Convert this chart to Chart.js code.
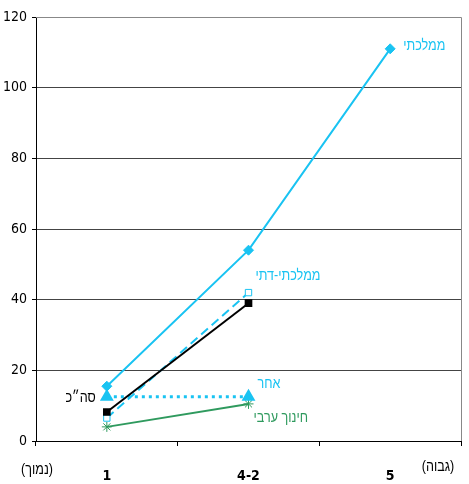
<!DOCTYPE html>
<html><head><meta charset="utf-8">
<script src="https://cdn.jsdelivr.net/npm/chart.js@4/dist/chart.umd.min.js"></script>
<style>html,body{margin:0;padding:0;background:#fff}#wrap{width:469px;height:484px}</style>
</head><body><div id="wrap"><canvas id="c" width="469" height="484"></canvas></div>
<script>
const categories = ["1", "4-2", "5"];
const yTicks = [0, 20, 40, 60, 80, 100, 120];
const mamlachti = [15.5, 54, 111];
const mamlachtiDati = [6.5, 42, null];
const total = [8.2, 39, null];
const other = [12.5, 12.5, null];
const arab = [4, 10.5, null];
const seriesNames = ["ממלכתי", "ממלכתי-דתי", "סה״כ", "אחר", "חינוך ערבי"];
const axisEnds = ["(נמוך)", "(גבוה)"];

const CYAN = "#19c3f2", GREEN = "#2f9a5e";
const FONT = "'Liberation Sans Narrow', 'DejaVu Sans Condensed', sans-serif";
const HFONT = "'Liberation Sans Narrow', 'Liberation Sans', sans-serif";

const labelSpec = [
  {ds:0, i:2, dx:13, dy:-3, align:'left', color:CYAN},
  {ds:1, i:1, dx:7, dy:-17, align:'left', color:CYAN},
  {ds:2, i:0, dx:-11, dy:-14, align:'right', color:'#000'},
  {ds:3, i:1, dx:9, dy:-13, align:'left', color:CYAN},
  {ds:4, i:1, dx:5, dy:14, align:'left', color:GREEN}
];

function hText(ctx, txt, x, y, align){
  ctx.save();
  ctx.translate(x, y);
  ctx.scale(0.84, 1);
  ctx.textAlign = align;
  ctx.fillText(txt, 0, 0);
  ctx.restore();
}

const labelPlugin = {
  id:'labels',
  afterDatasetsDraw(chart){
    const ctx = chart.ctx, x = chart.scales.x, y = chart.scales.y;
    ctx.save();
    ctx.direction = 'rtl';
    ctx.font = "15px " + HFONT;
    ctx.textBaseline = 'middle';
    labelSpec.forEach(s=>{
      const v = chart.data.datasets[s.ds].data[s.i];
      ctx.fillStyle = s.color;
      hText(ctx, seriesNames[s.ds], x.getPixelForValue(s.i) + s.dx, y.getPixelForValue(v) + s.dy, s.align);
    });
    ctx.fillStyle = '#000';
    const ca = chart.chartArea;
    hText(ctx, axisEnds[0], ca.left + 1, ca.bottom + 29, 'center');
    hText(ctx, axisEnds[1], ca.right - 23, ca.bottom + 26, 'center');
    ctx.direction = 'ltr';
    ctx.strokeStyle = '#888'; ctx.lineWidth = 1;
    ctx.beginPath(); ctx.moveTo(ca.left, ca.top + 0.5); ctx.lineTo(ca.right + 0.5, ca.top + 0.5); ctx.lineTo(ca.right + 0.5, ca.bottom); ctx.stroke();
    ctx.restore();
  }
};

new Chart(document.getElementById('c'), {
  type:'line',
  data:{
    labels: categories,
    datasets:[
      {label:seriesNames[0], data:mamlachti, borderColor:CYAN, backgroundColor:CYAN, borderWidth:2, pointStyle:'rectRot', pointRadius:5, pointBorderWidth:1, order:3},
      {label:seriesNames[1], data:mamlachtiDati, borderColor:CYAN, backgroundColor:'#fff', borderWidth:2, borderDash:[9,5], pointStyle:'rect', pointRadius:4.5, pointBorderWidth:1, order:4},
      {label:seriesNames[2], data:total, borderColor:'#000', backgroundColor:'#000', borderWidth:2, pointStyle:'rect', pointRadius:4, order:1},
      {label:seriesNames[3], data:other, borderColor:CYAN, backgroundColor:CYAN, borderWidth:3, borderDash:[3,4], pointStyle:'triangle', pointRadius:5, order:2},
      {label:seriesNames[4], data:arab, borderColor:GREEN, backgroundColor:GREEN, borderWidth:2, pointStyle:'star', pointRadius:5, pointBorderWidth:1, order:5}
    ]
  },
  options:{
    responsive:false, animation:false, devicePixelRatio:1,
    layout:{padding:{top:17, right:8, left:0, bottom:0}},
    plugins:{legend:{display:false}, tooltip:{enabled:false}},
    scales:{
      x:{
        offset:true,
        grid:{offset:true, drawOnChartArea:false, color:'#000', tickLength:5, tickColor:'#000'},
        border:{color:'#000', width:1},
        ticks:{color:'#000', font:{family:FONT, size:14, weight:'bold'}, padding:22, maxRotation:0},
        afterFit(s){ s.height = 43; }
      },
      y:{
        min:0, max:120,
        afterBuildTicks(s){ s.ticks = yTicks.map(v=>({value:v})); },
        grid:{color:'#444', tickLength:4, tickColor:'#000'},
        border:{color:'#000', width:1},
        ticks:{color:'#000', font:{family:FONT, size:14}, padding:5},
        afterFit(s){ s.width = 36; }
      }
    }
  },
  plugins:[labelPlugin]
});
</script></body></html>
